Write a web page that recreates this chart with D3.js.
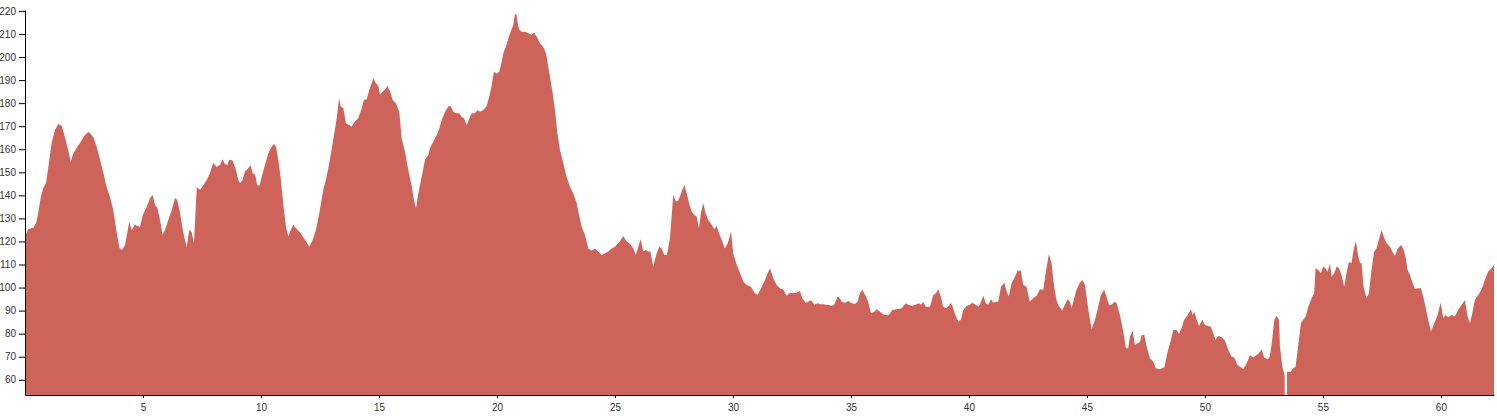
<!DOCTYPE html>
<html><head><meta charset="utf-8">
<script src="https://cdn.jsdelivr.net/npm/d3@7"></script>
<style>
body{margin:0;background:#fff;}
svg{display:block;}
.axis text{font-family:"Liberation Sans",Arial,sans-serif;font-size:10px;fill:#333;}
.axis path,.axis line{stroke:#000;}
</style></head><body>
<svg id="chart" width="1497" height="416"></svg>
<script>
const distance = [
0.00,0.14,0.35,0.47,0.56,0.67,0.78,0.89,0.99,1.13,1.27,1.41,1.56,1.69,1.83,1.94,2.02,2.19,2.33,2.54,2.68,2.75,2.89,3.04,3.18,3.32,3.46,3.60,3.74,3.89,4.00,4.10,4.24,4.33,4.42,4.52,4.66,4.87,4.99,5.16,5.30,5.41,5.51,5.61,5.72,5.83,5.97,6.07,6.22,6.36,6.45,6.57,6.71,6.85,6.96,7.06,7.16,7.28,7.42,7.56,7.70,7.84,7.98,8.12,
8.26,8.38,8.47,8.57,8.66,8.80,8.94,9.04,9.11,9.22,9.32,9.46,9.56,9.65,9.75,9.84,9.93,10.03,10.17,10.31,10.45,10.55,10.64,10.73,10.83,10.94,11.06,11.16,11.26,11.37,11.48,11.62,11.77,11.94,12.05,12.19,12.33,12.47,12.64,12.78,12.92,13.06,13.21,13.31,13.38,13.49,13.60,13.74,13.84,13.98,14.12,14.27,14.36,14.48,14.59,14.69,14.76,14.87,14.97,15.04,15.16,15.30,15.35,15.47,15.58,15.72,15.86,15.96,16.10,16.24,16.39,16.48,16.57,16.67,16.81,16.95,17.09,
17.16,17.30,17.45,17.56,17.66,17.80,17.94,18.04,18.15,18.26,18.40,18.50,18.60,18.72,18.83,18.93,19.07,19.17,19.28,19.42,19.56,19.67,19.77,19.87,19.99,20.10,20.20,20.27,20.38,20.48,20.58,20.69,20.76,20.83,20.88,20.94,21.05,21.19,21.33,21.47,21.57,21.68,21.82,21.96,22.08,22.22,22.36,22.46,22.56,22.67,22.81,22.95,23.09,23.23,23.38,23.49,23.59,23.73,23.87,24.01,24.15,24.29,24.44,24.58,24.72,24.86,25.00,25.14,25.21,
25.35,25.50,25.64,25.78,25.88,25.99,26.09,26.20,26.30,26.41,26.50,26.62,26.77,26.88,26.98,27.09,27.20,27.33,27.47,27.58,27.68,27.80,27.94,28.04,28.14,28.25,28.36,28.46,28.56,28.64,28.74,28.84,28.95,29.10,29.21,29.31,29.41,29.52,29.66,29.78,29.92,30.01,30.16,30.30,30.44,30.58,30.76,30.93,31.05,31.19,31.36,31.47,31.57,31.71,31.85,31.99,32.13,32.28,32.42,32.55,32.70,32.84,32.94,33.08,33.19,33.31,33.45,33.59,33.69,33.83,33.93,34.04,34.18,34.29,34.44,34.53,
34.61,34.75,34.89,35.03,35.17,35.28,35.38,35.48,35.62,35.73,35.85,35.99,36.09,36.23,36.41,36.61,36.75,36.94,37.15,37.32,37.43,37.57,37.74,37.88,37.97,38.06,38.17,38.35,38.49,38.60,38.70,38.81,38.91,39.03,39.12,39.24,39.33,39.44,39.55,39.66,39.76,39.90,40.04,40.14,40.28,40.42,40.51,40.61,40.71,40.82,40.93,41.03,41.13,41.24,41.36,41.50,41.60,41.69,41.81,41.95,42.06,42.20,42.30,42.44,42.58,42.72,42.87,43.01,43.15,43.25,43.39,43.50,43.61,43.71,
43.78,43.95,44.07,44.18,44.28,44.35,44.46,44.56,44.70,44.80,44.92,45.06,45.20,45.34,45.48,45.59,45.73,45.83,45.93,46.05,46.16,46.26,46.40,46.54,46.65,46.75,46.82,46.94,47.03,47.15,47.25,47.32,47.43,47.53,47.67,47.81,47.92,48.09,48.28,48.42,48.56,48.66,48.80,48.90,49.01,49.12,49.27,49.41,49.48,49.55,49.65,49.75,49.89,50.00,50.14,50.25,50.35,50.45,50.56,50.71,50.85,50.99,51.13,51.24,51.38,51.53,51.62,51.77,51.91,52.05,52.19,52.29,52.40,52.51,52.66,52.75,52.85,52.94,53.04,53.14,
53.18,53.28,53.38,53.43,53.48,53.64,53.74,53.84,53.95,54.07,54.16,54.27,54.38,54.52,54.63,54.69,54.80,54.92,55.01,55.11,55.20,55.30,55.37,55.48,55.58,55.68,55.79,55.90,56.00,56.10,56.21,56.31,56.40,56.50,56.58,56.64,56.72,56.85,56.95,57.06,57.17,57.27,57.37,57.49,57.60,57.70,57.84,57.94,58.05,58.17,58.31,58.40,58.50,58.59,58.69,58.78,58.90,59.01,59.15,59.25,59.35,59.46,59.58,59.72,59.86,59.99,60.10,60.20,60.31,60.45,60.59,60.73,60.88,61.02,61.13,61.23,61.33,61.44,61.58,61.72,61.86,62.00,62.15,62.25
];
const elevation = [
122.1,125.4,125.9,128.0,132.4,139.3,143.2,145.4,152.3,162.7,168.4,171.0,170.1,165.3,159.7,154.5,157.5,160.6,162.7,166.2,167.5,167.1,165.3,161.0,155.4,149.7,143.6,139.3,133.7,123.7,117.2,116.3,118.5,123.7,128.5,125.0,127.2,126.3,131.5,135.0,138.9,140.2,135.8,134.5,129.3,122.8,125.9,129.3,133.7,138.9,138.0,132.4,123.7,117.6,125.0,124.1,119.3,143.6,142.3,144.5,146.7,149.7,154.1,152.3,
153.2,155.7,153.6,153.2,155.4,155.1,151.0,146.7,145.3,146.7,150.3,151.8,153.2,149.6,148.9,144.5,144.1,148.1,153.2,158.3,161.1,162.3,161.1,155.4,148.1,136.6,126.4,122.1,125.0,127.2,125.7,124.3,122.1,119.5,117.7,120.7,125.0,132.2,142.3,148.1,155.4,164.0,173.4,182.1,178.5,177.8,171.3,170.5,169.8,172.0,173.4,177.8,181.4,181.7,185.7,188.6,190.8,188.6,187.5,183.6,185.0,186.5,187.5,185.0,181.4,180.0,176.3,164.8,159.0,151.0,143.8,138.0,134.4,140.9,148.1,155.4,157.5,
160.5,163.3,166.2,169.1,172.7,176.3,178.5,178.8,176.3,175.6,175.6,174.1,173.4,170.5,173.4,175.6,175.6,177.0,176.3,177.0,178.5,182.8,187.2,193.7,192.7,193.7,198.0,201.6,204.5,208.2,211.0,213.9,218.7,218.3,214.7,211.8,211.0,211.0,210.3,209.6,210.6,208.9,206.0,204.5,201.6,193.0,184.3,177.0,166.9,159.7,153.9,148.1,143.8,140.9,136.6,130.8,126.4,122.8,117.0,116.0,117.0,115.6,114.1,114.9,115.6,117.0,117.7,119.2,120.0,
122.4,120.0,118.9,117.0,114.1,117.7,121.0,115.6,116.3,115.6,115.6,109.1,114.9,117.7,117.0,114.1,114.1,121.4,140.2,137.3,137.7,140.9,144.5,140.9,136.6,132.9,131.5,130.8,125.7,132.2,136.6,132.2,129.3,127.2,125.3,126.7,123.6,120.7,117.0,119.2,124.3,114.9,109.8,106.2,102.6,101.1,100.4,97.5,96.8,99.7,103.3,106.2,108.4,104.0,101.1,99.7,99.0,96.4,97.8,97.5,97.8,98.5,95.4,93.4,93.9,94.6,92.5,93.2,92.8,92.8,92.5,92.5,92.0,92.5,96.1,95.4,
93.9,93.4,94.2,93.2,92.9,93.9,97.5,99.0,96.4,93.9,88.9,89.5,90.6,89.5,88.1,88.1,90.3,90.6,91.0,93.2,92.5,92.0,92.5,93.2,92.5,93.9,91.7,91.7,96.8,97.5,99.3,96.1,91.7,91.0,91.7,93.4,91.0,87.7,85.2,86.0,90.3,92.0,92.5,93.4,92.5,91.7,93.9,96.4,93.2,92.5,94.9,93.4,93.9,93.9,100.4,102.1,98.2,96.1,101.9,104.7,107.3,107.3,101.1,100.4,93.9,95.4,96.4,99.3,99.0,106.2,114.6,110.5,100.4,94.6,
92.5,90.0,92.5,94.9,93.9,91.0,95.4,99.0,102.1,103.3,101.1,90.3,81.9,86.0,91.7,96.8,99.0,96.1,92.5,92.5,93.9,93.2,88.1,80.9,73.7,73.7,78.7,81.3,75.1,75.8,76.5,79.4,79.4,74.4,69.3,67.8,65.0,64.6,65.4,72.2,77.3,81.6,81.6,79.9,82.3,86.0,88.1,90.6,88.1,89.5,86.0,83.3,86.0,83.8,83.3,83.0,80.4,77.3,79.0,78.5,77.0,72.9,70.0,69.7,66.4,65.4,64.6,67.2,70.8,69.7,70.8,71.5,73.2,69.7,68.9,70.0,77.3,86.0,87.7,86.0,
74.4,65.7,62.1,null,63.5,63.5,65.0,65.7,74.4,84.5,86.0,87.4,91.7,95.4,97.5,108.4,107.6,106.2,109.1,108.4,106.9,110.5,104.7,106.2,109.1,108.4,105.5,100.4,106.2,111.2,110.5,117.0,120.0,113.4,110.5,110.5,100.4,95.4,97.5,107.6,115.6,117.0,120.7,125.0,121.4,119.2,117.7,115.6,113.7,117.0,118.5,117.0,113.4,107.6,105.5,102.6,99.3,99.7,99.7,96.1,91.7,86.0,80.9,84.5,88.1,93.4,86.7,88.1,87.1,88.1,87.4,90.3,92.5,94.6,87.4,84.5,88.9,94.6,96.8,99.0,103.3,106.9,108.4,109.8
];
const xTicks = [5,10,15,20,25,30,35,40,45,50,55,60];
const yTicks = [60,70,80,90,100,110,120,130,140,150,160,170,180,190,200,210,220];

const W = 1497, H = 416;
const m = {top:10, right:3, bottom:21, left:25};
const yMin = 53.4, yMax = 220.4;
const svg = d3.select("#chart");
const x = d3.scaleLinear().domain([0, 62.25]).range([m.left, W - m.right]);
const y = d3.scaleLinear().domain([yMin, yMax]).range([H - m.bottom, m.top]);
const data = distance.map((d, i) => ({d: d, e: elevation[i]}));

const area = d3.area()
  .defined(p => p.e != null)
  .x(p => x(p.d))
  .y0(y(yMin))
  .y1(p => y(p.e));

svg.append("path").datum(data).attr("fill", "#ce6459").attr("d", area);

svg.append("g").attr("class", "axis")
  .attr("transform", `translate(0,${H - m.bottom})`)
  .call(d3.axisBottom(x).tickValues(xTicks).tickSizeInner(3).tickSizeOuter(0).tickPadding(6));

svg.append("g").attr("class", "axis")
  .attr("transform", `translate(${m.left},0)`)
  .call(d3.axisLeft(y).tickValues(yTicks).tickSizeOuter(0));
</script>
</body></html>
